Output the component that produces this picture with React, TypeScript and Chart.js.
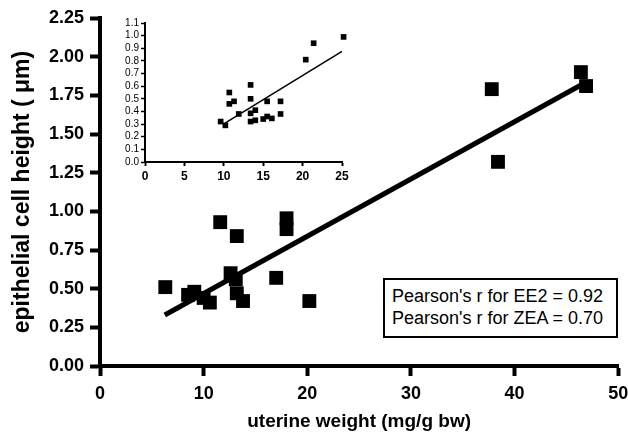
import React, { useEffect, useRef } from 'react';
import { Chart, registerables } from 'chart.js';

Chart.register(...registerables);

// Main panel data
const mainX = [6.3, 8.5, 9.1, 10.0, 10.6, 11.6, 12.6, 13.1, 13.2, 13.2, 13.8, 17.0, 18.0, 18.0, 20.2, 37.8, 38.4, 46.4, 46.9];
const mainY = [0.51, 0.46, 0.48, 0.44, 0.41, 0.93, 0.60, 0.56, 0.84, 0.47, 0.42, 0.57, 0.955, 0.885, 0.42, 1.79, 1.32, 1.90, 1.81];
const mainFitX = [6.25, 46.5];
const mainFitY = [0.33, 1.82];
const mainXTicks = [0, 10, 20, 30, 40, 50];
const mainYTicks = [0, 0.25, 0.5, 0.75, 1.0, 1.25, 1.5, 1.75, 2.0, 2.25];

// Inset data
const insetX = [9.6, 10.2, 10.7, 10.7, 11.3, 11.9, 13.4, 13.4, 13.4, 13.4, 14.0, 14.0, 15.0, 15.5, 15.5, 16.1, 17.2, 17.2, 20.4, 21.4, 25.2];
const insetY = [0.32, 0.29, 0.55, 0.46, 0.48, 0.38, 0.61, 0.50, 0.385, 0.32, 0.41, 0.33, 0.34, 0.48, 0.36, 0.345, 0.48, 0.38, 0.81, 0.94, 0.99];
const insetFitX = [10.2, 25.0];
const insetFitY = [0.31, 0.875];
const insetXTicks = [0, 5, 10, 15, 20, 25];
const insetYTicks = [0, 0.1, 0.2, 0.3, 0.4, 0.5, 0.6, 0.7, 0.8, 0.9, 1.0, 1.1];

const xTitle = 'uterine weight (mg/g bw)';
const yTitle = 'epithelial cell height ( \u03bcm)';
const pearsonLines = ["Pearson's r for EE2 = 0.92", "Pearson's r for ZEA = 0.70"];

const FONT = "'Liberation Sans', Arial, Helvetica, sans-serif";

function pts(xs: number[], ys: number[]) {
  return xs.map((x, i) => ({ x, y: ys[i] }));
}

const noPad = (s: any) => {
  s.paddingLeft = 0;
  s.paddingRight = 0;
};

export default function App() {
  const mainRef = useRef<HTMLCanvasElement>(null);
  const insetRef = useRef<HTMLCanvasElement>(null);

  useEffect(() => {
    document.body.style.margin = '0';
    const main = new Chart(mainRef.current!, {
      type: 'scatter',
      data: {
        datasets: [
          {
            type: 'scatter',
            data: pts(mainX, mainY),
            pointStyle: 'rect',
            pointRadius: 9.8,
            backgroundColor: '#000',
            borderWidth: 0,
            clip: false,
          },
          {
            type: 'line',
            data: pts(mainFitX, mainFitY),
            borderColor: '#000',
            borderWidth: 5,
            pointRadius: 0,
            fill: false,
          } as any,
        ],
      },
      options: {
        animation: false,
        responsive: false,
        events: [],
        layout: { padding: { top: 18, right: 8, left: 0, bottom: 0 } },
        plugins: { legend: { display: false }, tooltip: { enabled: false } },
        scales: {
          x: {
            type: 'linear',
            position: 'bottom',
            min: 0,
            max: 50,
            afterBuildTicks: (s: any) => { s.ticks = mainXTicks.map((v) => ({ value: v })); },
            afterFit: (s: any) => { s.height = 69; noPad(s); },
            border: { display: true, width: 4, color: '#000' },
            grid: { drawOnChartArea: false, drawTicks: true, tickLength: 10, tickWidth: 4, tickColor: '#000', color: '#000' },
            ticks: { color: '#000', padding: 7, maxRotation: 0, autoSkip: false, font: { family: FONT, weight: 'bold', size: 18 }, callback: (v: any) => String(v) },
            title: { display: true, text: xTitle, color: '#000', font: { family: FONT, weight: 'bold', size: 19 }, padding: { top: 0, bottom: 2 } },
          },
          y: {
            type: 'linear',
            position: 'left',
            min: 0,
            max: 2.25,
            afterBuildTicks: (s: any) => { s.ticks = mainYTicks.map((v) => ({ value: v })); },
            afterFit: (s: any) => { s.width = 100; },
            border: { display: true, width: 4, color: '#000' },
            grid: { drawOnChartArea: false, drawTicks: true, tickLength: 10, tickWidth: 4, tickColor: '#000', color: '#000' },
            ticks: { color: '#000', padding: 6, autoSkip: false, font: { family: FONT, weight: 'bold', size: 18 }, callback: (v: any) => Number(v).toFixed(2) },
            title: { display: true, text: yTitle, color: '#000', font: { family: FONT, weight: 'bold', size: 23 }, padding: { top: 9, bottom: 0 } },
          },
        },
      } as any,
    });

    const inset = new Chart(insetRef.current!, {
      type: 'scatter',
      data: {
        datasets: [
          {
            type: 'scatter',
            data: pts(insetX, insetY),
            pointStyle: 'rect',
            pointRadius: 4,
            backgroundColor: '#000',
            borderWidth: 0,
            clip: false,
          },
          {
            type: 'line',
            data: pts(insetFitX, insetFitY),
            borderColor: '#000',
            borderWidth: 1.5,
            pointRadius: 0,
            fill: false,
          } as any,
        ],
      },
      options: {
        animation: false,
        responsive: false,
        events: [],
        layout: { padding: { top: 18, right: 13, left: 0, bottom: 0 } },
        plugins: { legend: { display: false }, tooltip: { enabled: false } },
        scales: {
          x: {
            type: 'linear',
            position: 'bottom',
            min: 0,
            max: 25,
            afterBuildTicks: (s: any) => { s.ticks = insetXTicks.map((v) => ({ value: v })); },
            afterFit: (s: any) => { s.height = 28; noPad(s); },
            border: { display: true, width: 2, color: '#000' },
            grid: { drawOnChartArea: false, drawTicks: true, tickLength: 4, tickWidth: 2, tickColor: '#000', color: '#000' },
            ticks: { color: '#000', padding: 3, maxRotation: 0, autoSkip: false, font: { family: FONT, weight: 'bold', size: 12 }, callback: (v: any) => String(v) },
          },
          y: {
            type: 'linear',
            position: 'left',
            min: 0,
            max: 1.1,
            afterBuildTicks: (s: any) => { s.ticks = insetYTicks.map((v) => ({ value: v })); },
            afterFit: (s: any) => { s.width = 40; },
            border: { display: true, width: 2, color: '#000' },
            grid: { drawOnChartArea: false, drawTicks: true, tickLength: 4, tickWidth: 1.5, tickColor: '#000', color: '#000' },
            ticks: { color: '#000', padding: 2, autoSkip: false, font: { family: FONT, size: 10 }, callback: (v: any) => Number(v).toFixed(1) },
          },
        },
      } as any,
    });

    return () => {
      main.destroy();
      inset.destroy();
    };
  }, []);

  return (
    <div style={{ position: 'absolute', left: 0, top: 0, width: 628, height: 435, background: '#fff' }}>
      <canvas ref={mainRef} width={628} height={435} style={{ position: 'absolute', left: 0, top: 0 }} />
      <canvas ref={insetRef} width={250} height={185} style={{ position: 'absolute', left: 105, top: 5 }} />
      <div
        style={{
          position: 'absolute',
          left: 383,
          top: 278,
          width: 235,
          height: 60,
          boxSizing: 'border-box',
          border: '2px solid #000',
          background: '#fff',
          display: 'flex',
          flexDirection: 'column',
          justifyContent: 'center',
          paddingLeft: 7,
          fontFamily: FONT,
          fontSize: 18,
          lineHeight: '21.6px',
          color: '#000',
          whiteSpace: 'nowrap',
        }}
      >
        {pearsonLines.map((t) => (
          <div key={t}>{t}</div>
        ))}
      </div>
    </div>
  );
}
